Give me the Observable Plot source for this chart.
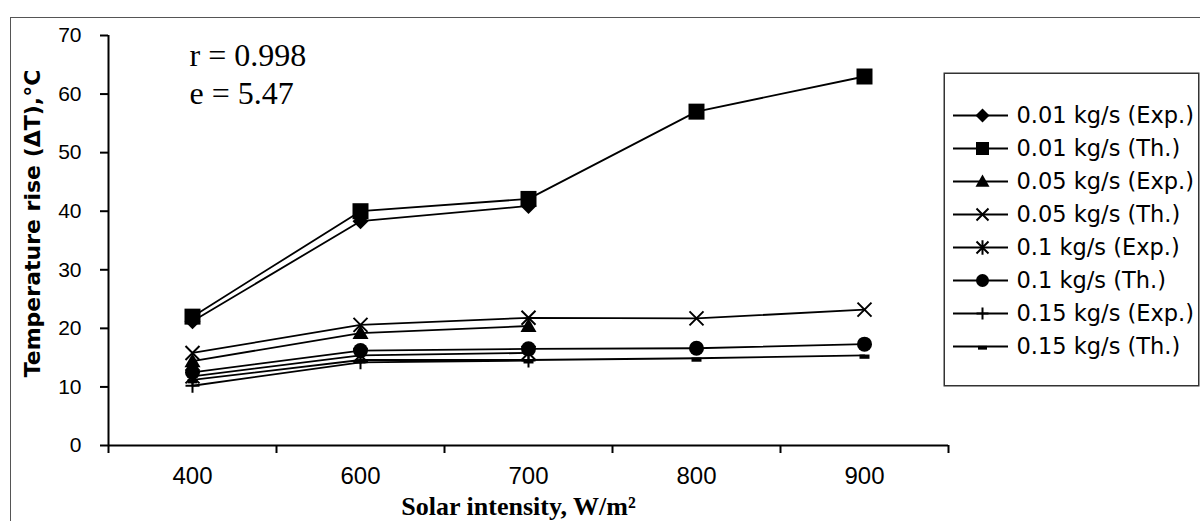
<!DOCTYPE html>
<html><head><meta charset="utf-8">
<script src="https://cdn.jsdelivr.net/npm/d3@7"></script>
<script src="https://cdn.jsdelivr.net/npm/@observablehq/plot@0.6"></script>
<style>
html,body{margin:0;padding:0;background:#fff;}
#wrap{position:relative;width:1200px;height:521px;overflow:hidden;background:#fff;}
#border{position:absolute;left:10px;top:17px;width:1300px;height:700px;border:1.5px solid #555;box-sizing:border-box;}
#chart{position:absolute;left:0;top:0;}
#legend{position:absolute;left:943px;top:72px;}
</style></head><body>
<div id="wrap"><div id="border"></div><div id="chart"></div><div id="legend"></div></div>
<script>
// ---- data ----
const categories = ["400", "600", "700", "800", "900"];
const seriesNames = [
  "0.01 kg/s (Exp.)", "0.01 kg/s (Th.)",
  "0.05 kg/s (Exp.)", "0.05 kg/s (Th.)",
  "0.1 kg/s (Exp.)", "0.1 kg/s (Th.)",
  "0.15 kg/s (Exp.)", "0.15 kg/s (Th.)"
];
const exp001 = [21.2, 38.3, 40.9];
const th001  = [22.0, 40.0, 42.1, 57.0, 63.0];
const exp005 = [14.4, 19.2, 20.4];
const th005  = [15.8, 20.6, 21.8, 21.7, 23.2];
const exp01  = [11.8, 15.4, 15.8];
const th01   = [12.5, 16.2, 16.5, 16.6, 17.3];
const exp015 = [10.2, 14.2, 14.5];
const th015  = [11.2, 14.6, 14.6, 14.9, 15.4];
const yTicks = [0, 10, 20, 30, 40, 50, 60, 70];
const annotations = ["r = 0.998", "e = 5.47"];
const xLabel = "Solar intensity, W/m\u00B2";
const yLabel = "Temperature rise (\u0394T),\u00B0C";

const seriesValues = [exp001, th001, exp005, th005, exp01, th01, exp015, th015];
const rows = seriesNames.flatMap((name, s) =>
  seriesValues[s].map((v, i) => ({series: name, s, x: i + 0.5, y: v})));

// ---- marker shapes ----
const H = size => Math.sqrt(size / Math.PI);
const symDiamond = {draw(c, s){const h=H(s); c.moveTo(0,-h); c.lineTo(h,0); c.lineTo(0,h); c.lineTo(-h,0); c.closePath();}};
const symSquare = {draw(c, s){const h=H(s); c.rect(-h,-h,2*h,2*h);}};
const symTriangle = {draw(c, s){const h=H(s); c.moveTo(0,-h); c.lineTo(h,h*0.75); c.lineTo(-h,h*0.75); c.closePath();}};
const symTimes = {draw(c, s){const h=H(s); c.moveTo(-h,-h); c.lineTo(h,h); c.moveTo(h,-h); c.lineTo(-h,h);}};
const symAsterisk = {draw(c, s){const h=H(s); c.moveTo(-h,-h); c.lineTo(h,h); c.moveTo(h,-h); c.lineTo(-h,h); c.moveTo(0,-h*1.2); c.lineTo(0,h*1.2);}};
const symCircle = {draw(c, s){const h=H(s); c.moveTo(h,0); c.arc(0,0,h,0,2*Math.PI);}};
const symPlus = {draw(c, s){const h=H(s); c.moveTo(0,-h); c.lineTo(0,h); c.moveTo(-h,0); c.lineTo(h,0);}};
const symDash = {draw(c, s){const h=H(s); c.rect(-h,-h*0.15,2*h,h*0.85);}};
const symbols = [symDiamond, symSquare, symTriangle, symTimes, symAsterisk, symCircle, symPlus, symDash];
const filled  = [true, true, true, false, false, true, false, true];
const rChart  = [8, 8, 8, 7, 7, 7.5, 7, 5];
const rLegend = [7, 6.5, 7, 6, 6, 6.5, 6, 4.5];
const dotStyle = s => filled[s] ? {fill: "#000", stroke: "none"} : {fill: "none", stroke: "#000", strokeWidth: 2};

// ---- main chart ----
const chart = Plot.plot({
  width: 1200, height: 521,
  marginLeft: 108, marginRight: 252, marginTop: 35, marginBottom: 76,
  style: {fontFamily: "'Liberation Sans', Arial, sans-serif", background: "transparent", color: "#000", overflow: "visible"},
  x: {domain: [0, categories.length], axis: null},
  y: {domain: [0, 70], axis: null},
  marks: [
    Plot.axisY({ticks: yTicks, tickSize: 8, tickPadding: 19, fontSize: 21, strokeWidth: 2, label: null}),
    Plot.axisX({ticks: d3.range(categories.length + 1), tickSize: 8, tickFormat: () => "", strokeWidth: 2, label: null}),
    Plot.axisX({ticks: categories.map((c, i) => i + 0.5), tickSize: 0, tickPadding: 21,
      tickFormat: v => categories[Math.round(v - 0.5)], fontSize: 24, label: null}),
    Plot.ruleY([0], {stroke: "#000", strokeWidth: 2}),
    Plot.ruleX([0], {stroke: "#000", strokeWidth: 2}),
    Plot.line(rows, {x: "x", y: "y", z: "series", stroke: "#000", strokeWidth: 1.8}),
    ...seriesNames.map((name, s) => Plot.dot(rows.filter(d => d.s === s),
      {x: "x", y: "y", symbol: symbols[s], r: rChart[s], ...dotStyle(s)})),
    Plot.text([annotations[0]], {text: d => d, frameAnchor: "top-left", dx: 81, dy: 30, lineAnchor: "bottom",
      textAnchor: "start", fontSize: 32, fontFamily: "'Liberation Serif', 'Times New Roman', serif"}),
    Plot.text([annotations[1]], {text: d => d, frameAnchor: "top-left", dx: 81, dy: 68, lineAnchor: "bottom",
      textAnchor: "start", fontSize: 32, fontFamily: "'Liberation Serif', 'Times New Roman', serif"}),
    Plot.text([xLabel], {text: d => d, frameAnchor: "bottom", dx: -10, dy: 69, lineAnchor: "bottom",
      fontSize: 26, fontWeight: "bold", fontFamily: "'Liberation Serif', 'Times New Roman', serif"}),
    Plot.text([yLabel], {text: d => d, frameAnchor: "left", dx: -76, dy: -17, rotate: -90,
      textAnchor: "middle", lineAnchor: "middle",
      fontSize: 22, fontWeight: "bold", fontFamily: "'DejaVu Sans', sans-serif"})
  ]
});
document.getElementById("chart").append(chart);

// ---- legend ----
const legend = Plot.plot({
  width: 256, height: 314, margin: 0,
  style: {fontFamily: "'DejaVu Sans', sans-serif", background: "#fff", color: "#000", overflow: "visible"},
  x: {domain: [0, 256], range: [0, 256], axis: null},
  y: {type: "point", domain: seriesNames, range: [23, 294], axis: null},
  marks: [
    Plot.frame({stroke: "#333", strokeWidth: 1.5, inset: 0.75}),
    Plot.ruleY(seriesNames, {y: d => d, x1: 10, x2: 65, stroke: "#000", strokeWidth: 1.8}),
    ...seriesNames.map((name, s) => Plot.dot([name], {x: 39, y: d => d, symbol: symbols[s], r: rLegend[s], ...dotStyle(s)})),
    Plot.text(seriesNames, {x: 73, y: d => d, text: d => d, textAnchor: "start", fontSize: 22.5})
  ]
});
document.getElementById("legend").append(legend);
</script>
</body></html>
